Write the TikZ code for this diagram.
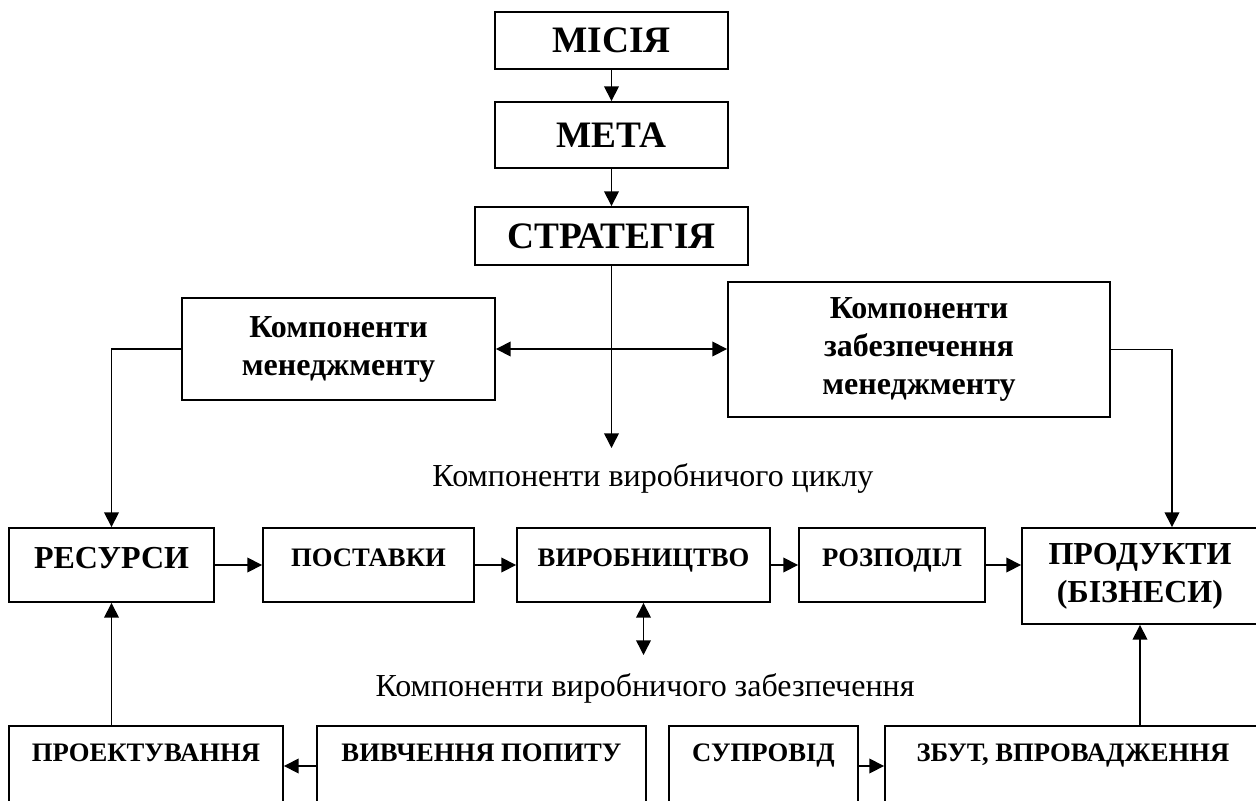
\documentclass[tikz,border=0pt]{standalone}
\usepackage{fontspec}
\setmainfont{Liberation Serif}
\usetikzlibrary{arrows.meta}

\begin{document}
\begin{tikzpicture}[x = 0.75pt, y = -0.75pt,
    >= {Triangle[length = 11pt, width = 11pt]},
    every node/.style = {inner sep = 0pt},
    box/.style = {draw, line width = 1.4pt, align = center},
    big/.style = {box, font = \fontsize{28}{33}\selectfont\bfseries},
    mid/.style = {box, font = \fontsize{24}{28.5}\selectfont\bfseries},
    cell/.style = {box, minimum height = 55.5pt, font = \fontsize{20}{24}\selectfont\bfseries,
        text height = 13.2pt, text depth = 10.5pt},
    bigcell/.style = {cell, font = \fontsize{24}{28.5}\selectfont\bfseries, text height = 15.9pt},
    foot/.style = {cell, minimum height = 60pt, text depth = 19.5pt},
    caption/.style = {font = \fontsize{24}{28.5}\selectfont},
    link/.style = {line width = 1.1pt}]
    \useasboundingbox (0,0) rectangle (1256,800);

    \node[big, minimum width = 174.75pt, minimum height = 42.75pt] (mis) at (611.5,40.5) {МІСІЯ};
    \node[big, minimum width = 174.75pt, minimum height = 49.5pt] (meta) at (611.5,135) {МЕТА};
    \node[big, minimum width = 204.75pt, minimum height = 43.5pt] (strat) at (611.5,236) {СТРАТЕГІЯ};

    \node[mid, minimum width = 234.75pt, minimum height = 76.5pt] (km) at (338.5,349) {Компоненти\\менеджменту};
    \node[mid, minimum width = 286.5pt, minimum height = 101.25pt] (kzm) at (919,349.5) {Компоненти\\забезпечення\\менеджменту};
    \coordinate (cycend) at (611.5,448);
    \node[caption] (cyc) at (653,478) {Компоненти виробничого циклу};

    \node[bigcell, minimum width = 153.75pt] (res) at (111.5,565) {РЕСУРСИ};
    \node[cell, minimum width = 158.25pt] (post) at (368.5,565) {ПОСТАВКИ};
    \node[cell, minimum width = 189.75pt] (vyr) at (643.5,565) {ВИРОБНИЦТВО};
    \node[cell, minimum width = 139.5pt] (rozp) at (892,565) {РОЗПОДІЛ};
    \node[mid, minimum width = 177pt, minimum height = 72pt] (prod) at (1140,576) {ПРОДУКТИ\\(БІЗНЕСИ)};

    \coordinate (zabend) at (643.5,655);
    \node[caption] (zab) at (645,688) {Компоненти виробничого забезпечення};

    \node[foot, minimum width = 205.5pt] (proj) at (146,766) {ПРОЕКТУВАННЯ};
    \node[foot, minimum width = 246.75pt] (vyv) at (481.5,766) {ВИВЧЕННЯ ПОПИТУ};
    \node[foot, minimum width = 141.75pt] (sup) at (763.5,766) {СУПРОВІД};
    \node[foot, minimum width = 282pt] (zbut) at (1073,766) {ЗБУТ, ВПРОВАДЖЕННЯ};

    \draw[link, ->] (mis) -- (meta);
    \draw[link, ->] (meta) -- (strat);
    \draw[link, ->] (strat) -- (cycend);
    \draw[link, <->] (km.east) -- (kzm.west |- km.east);
    \draw[link, ->] (km.west) -| (res.north);
    \draw[link, ->] (kzm.east) -| ([xshift = 24pt]prod.north);
    \draw[link, ->] (res) -- (post);
    \draw[link, ->] (post) -- (vyr);
    \draw[link, ->] (vyr) -- (rozp);
    \draw[link, ->] (rozp.east) -- (rozp.east -| prod.west);
    \draw[link, <->] (vyr.south) -- (zabend);
    \draw[link, ->] (proj.north -| res.south) -- (res.south);
    \draw[link, ->] (vyv) -- (proj);
    \draw[link, ->] (sup) -- (zbut);
    \draw[link, ->] (zbut.north -| prod.south) -- (prod.south);
\end{tikzpicture}
\end{document}
